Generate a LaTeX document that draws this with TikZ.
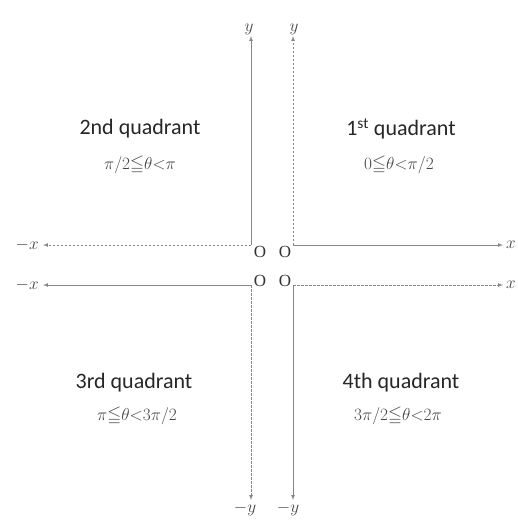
\documentclass[tikz,border=0pt]{standalone}
\usepackage{amssymb}
\usepackage{fontspec}
\setmainfont{Liberation Serif}
\newfontfamily\quadfont{Carlito}
\usepackage{tikz}
\definecolor{axisgray}{RGB}{135,135,135}
\definecolor{textgray}{RGB}{70,70,70}
\usetikzlibrary{arrows, positioning}

\begin{document}
\begin{tikzpicture}[x=1pt, y=-1pt,
				>=latex,   %default arrow tips
				axis/.style={draw=axisgray, line width=0.7pt},
				dashaxis/.style={axis, dash pattern=on 2.5pt off 1.5pt},
				quad/.style={font=\quadfont\fontsize{22}{26}\selectfont, text=black!85},
				angrange/.style={font=\fontsize{18}{21}\selectfont, text=textgray},
				lab/.style={font=\fontsize{17}{20}\selectfont, text=textgray, inner sep=1pt},
				orig/.style={font=\fontsize{17}{20}\selectfont, text=black!80, inner sep=0pt}]
				%picture area
				\useasboundingbox (0,0) rectangle (518,525);
				% corners of the four axis pairs
				\coordinate (cUL) at (251,245);
				\coordinate (cUR) at (293,245);
				\coordinate (cLL) at (251,285);
				\coordinate (cLR) at (293,285);
				% arrow ends
				\coordinate (tUL) at (251,36);
				\coordinate (tUR) at (293,36);
				\coordinate (tLU) at (43,245);
				\coordinate (tRU) at (503,245);
				\coordinate (tLL) at (43,285);
				\coordinate (tRL) at (503,285);
				\coordinate (tBL) at (251,500);
				\coordinate (tBR) at (293,500);
				% axis labels
				\node[lab, above=0pt of tUL, xshift=-2pt] (yUL) {$y$};
				\node[lab, above=0pt of tUR, xshift=1pt] (yUR) {$y$};
				\node[lab, left=3pt of tLU] (xLU) {$-x$};
				\node[lab, right=2pt of tRU] (xRU) {$x$};
				\node[lab, left=3pt of tLL] (xLL) {$-x$};
				\node[lab, right=2pt of tRL] (xRL) {$x$};
				\node[lab, below=1pt of tBL, xshift=-6pt] (yBL) {$-y$};
				\node[lab, below=1pt of tBR, xshift=-5pt] (yBR) {$-y$};
				% 2nd quadrant
				\draw[axis,->] (cUL) -- (tUL);
				\draw[dashaxis,->] (cUL) -- (tLU);
				% 1st quadrant
				\draw[dashaxis,->] (cUR) -- (tUR);
				\draw[axis,->] (cUR) -- (tRU);
				% 3rd quadrant
				\draw[axis,->] (cLL) -- (tLL);
				\draw[dashaxis,->] (cLL) -- (tBL);
				% 4th quadrant
				\draw[dashaxis,->] (cLR) -- (tRL);
				\draw[axis,->] (cLR) -- (tBR);
				% origins
				\node[orig] (oUL) at (260,252) {O};
				\node[orig] (oUR) at (285,252) {O};
				\node[orig] (oLL) at (260,281) {O};
				\node[orig] (oLR) at (285,281) {O};
				% quadrant names and ranges
				\node[quad] (q2) at (140,129) {2nd quadrant};
				\node[angrange] (r2) at (140,165) {$\pi/2{\leqq}\theta{<}\pi$};
				\node[quad] (q1) at (401,129) {1\textsuperscript{st} quadrant};
				\node[angrange] (r1) at (399,165) {$0{\leqq}\theta{<}\pi/2$};
				\node[quad] (q3) at (134,383) {3rd quadrant};
				\node[angrange] (r3) at (137,416) {$\pi{\leqq}\theta{<}3\pi/2$};
				\node[quad] (q4) at (401,383) {4th quadrant};
				\node[angrange] (r4) at (398,416) {$3\pi/2{\leqq}\theta{<}2\pi$};
\end{tikzpicture}
\end{document}
